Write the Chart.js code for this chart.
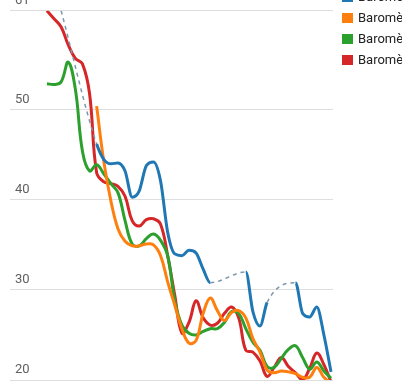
<!DOCTYPE html>
<html>
<head>
<meta charset="utf-8">
<script src="https://cdn.jsdelivr.net/npm/chart.js@4"></script>
<style>
    html, body { margin: 0; padding: 0; background: #fff; }
    #wrap { width: 402px; height: 381px; }
</style>
</head>
<body>
<div id="wrap"><canvas id="barometreLineChart" width="402" height="381"></canvas></div>
<script>
// weekly points, x = index
var weeks = [];
for (var w = 1; w <= 41; w++) { weeks.push('S' + w); }

var seriesLabels = ['Baromètre 2012', 'Baromètre 2013', 'Baromètre 2014', 'Baromètre 2015'];
var seriesColors = ['#1f77b4', '#ff7f0e', '#2ca02c', '#d62728'];

var blueValues = [null, null, 61, null, null, null, null, 46.2, 44.5, 44.0, 44.1, 43.2, 40.3, 41.0, 43.8, 44.2, 42.1, 36.4, 34.0, 33.8,
    34.4, 34.1, 32.3, 30.8, null, null, null, null, 32.0, 27.6, 26.0, 28.6, null, null, null, 30.8, 27.4, 27.0, 28.1, 25.0, 20.9];
var orangeValues = [null, null, null, null, null, null, null, 50.4, 44.3, 39.9, 36.8, 35.4, 34.9, 34.9, 35.1, 35.0, 33.8, 30.9, 28.3, 25.7,
    24.1, 24.4, 27.4, 29.1, 27.7, 26.6, 27.5, 27.7, 26.9, 24.6, 23.1, 21.1, 20.8, 21.0, 20.9, 20.7, 20.3, 20.3, 21.4, 20.3, 19.6];
var greenValues = [52.9, 52.8, 53.1, 55.3, 52.3, 45.4, 43.2, 43.9, 42.9, 41.8, 40.8, 37.7, 35.1, 34.9, 35.7, 36.2, 35.5, 33.8, 28.8, 26.1,
    25.2, 25.0, 25.4, 25.7, 25.7, 26.4, 27.6, 27.4, 25.7, 24.2, 23.3, 21.5, 21.4, 22.4, 23.4, 23.8, 22.5, 21.2, 22.0, 21.0, 20.2];
var redValues = [61, 60.1, 59.2, 57.2, 55.7, 55.1, 51.8, 43.0, 42.0, 41.8, 41.5, 40.4, 37.7, 37.1, 37.8, 37.9, 37.3, 33.8, 29.4, 25.2,
    26.4, 28.8, 26.9, 26.1, 26.3, 27.4, 28.1, 26.9, 23.3, 23.1, 22.1, 20.4, 21.4, 22.5, 21.5, 20.8, 20.0, 21.3, 23.0, 21.7, 19.8];

var yTicks = [20, 30, 40, 50, 61];

function toPoints(values) {
    return values.map(function (v, i) { return { x: i, y: v }; });
}

function isGap(ctx) {
    return ctx.p0.skip || ctx.p1.skip;
}

// legend drawn at the top right, cut by the window edge like the original
var sideLegend = {
    id: 'sideLegend',
    afterDraw: function (chart) {
        var ctx = chart.ctx;
        ctx.save();
        ctx.font = '13px Roboto';
        ctx.textBaseline = 'middle';
        ctx.textAlign = 'left';
        chart.data.datasets.forEach(function (ds, i) {
            var cy = -3 + i * 21;
            ctx.fillStyle = ds.borderColor;
            ctx.fillRect(342, cy - 5, 11, 10);
            ctx.fillStyle = '#222';
            ctx.fillText(ds.label, 358, cy + 1);
        });
        ctx.restore();
    }
};

function makeDataset(idx, values) {
    return {
        label: seriesLabels[idx],
        data: toPoints(values),
        borderColor: seriesColors[idx],
        backgroundColor: seriesColors[idx],
        borderWidth: 3,
        pointRadius: 0,
        tension: 0.4,
        fill: false
    };
}

function initBarometreChart() {
    var blue = makeDataset(0, blueValues);
    blue.spanGaps = true;
    blue.cubicInterpolationMode = 'monotone';
    blue.segment = {
        borderColor: function (ctx) { return isGap(ctx) ? '#7d97ad' : undefined; },
        borderDash: function (ctx) { return isGap(ctx) ? [4, 4] : undefined; },
        borderWidth: function (ctx) { return isGap(ctx) ? 1.5 : undefined; }
    };

    var chartCanvas = document.getElementById('barometreLineChart').getContext('2d');
    new Chart(chartCanvas, {
        type: 'line',
        data: {
            datasets: [blue, makeDataset(1, orangeValues), makeDataset(2, greenValues), makeDataset(3, redValues)]
        },
        options: {
            responsive: false,
            animation: false,
            events: [],
            layout: { padding: { left: 10, right: 69, top: 10.7, bottom: 1 } },
            plugins: { legend: { display: false }, tooltip: { enabled: false } },
            scales: {
                x: { type: 'linear', display: false, min: -5.2, max: 40.28 },
                y: {
                    min: 20,
                    max: 61,
                    border: { display: false },
                    grid: { color: '#dedede', lineWidth: 1, drawTicks: false },
                    afterBuildTicks: function (scale) {
                        scale.ticks = yTicks.map(function (v) { return { value: v }; });
                    },
                    afterFit: function (scale) {
                        scale.width = 0;
                        scale.paddingTop = 0;
                        scale.paddingBottom = 0;
                    },
                    ticks: {
                        mirror: true,
                        padding: 5,
                        labelOffset: -10,
                        color: '#5f5f5f',
                        font: { family: 'Roboto', size: 13 }
                    }
                }
            }
        },
        plugins: [sideLegend]
    });
}

initBarometreChart();
</script>
</body>
</html>
